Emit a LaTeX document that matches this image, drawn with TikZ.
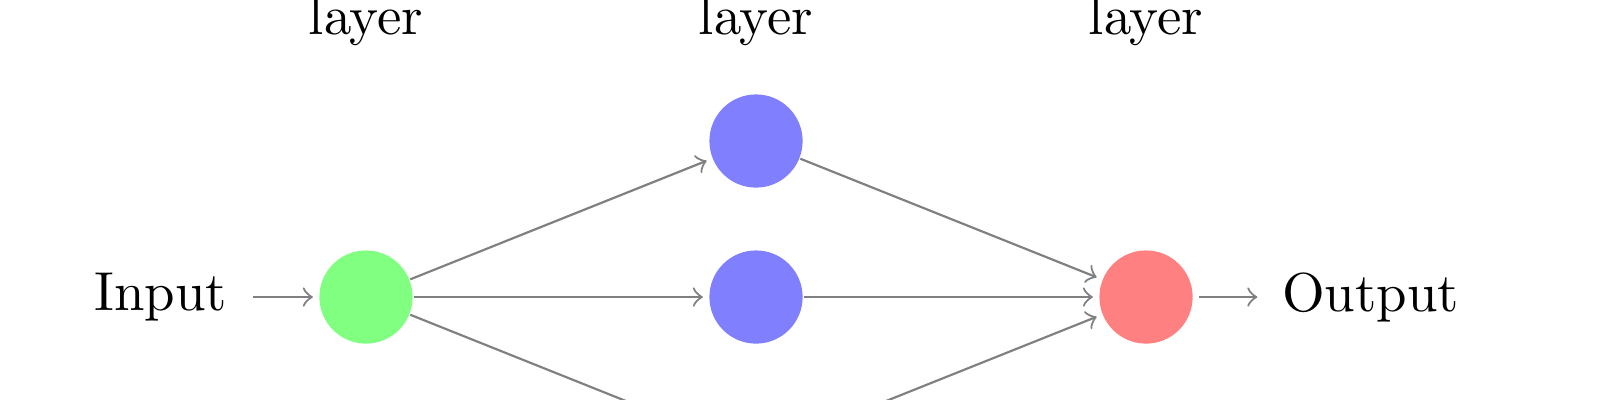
\documentclass[tikz,border=0pt]{standalone}
\begin{document}
\begin{tikzpicture}[
  neuron/.style={circle, minimum size=17pt, inner sep=0pt, draw=none},
  inneuron/.style={neuron, fill=green!50},
  hidneuron/.style={neuron, fill=blue!50},
  outneuron/.style={neuron, fill=red!50},
  conn/.style={->, shorten >=1pt, draw=black!50},
  annot/.style={anchor=base}
]
\useasboundingbox (-2.346,-0.660) rectangle (7.910,1.904);
\clip (-2.346,-0.660) rectangle (7.910,1.904);
\node[inneuron] (I) at (0,0) {};
\node[hidneuron] (H1) at (2.5,1) {};
\node[hidneuron] (H2) at (2.5,0) {};
\node[hidneuron] (H3) at (2.5,-1) {};
\node[outneuron] (O) at (5,0) {};
\node (in) at (-1.317,0) {Input};
\node (out) at (6.439,0) {Output};
\node[annot] (l1) at (0,1.686) {layer};
\node[annot] (l2) at (2.5,1.686) {layer};
\node[annot] (l3) at (5,1.686) {layer};
\draw[conn, shorten <=1.2pt] (in) -- (I);
\draw[conn] (I) -- (H1);
\draw[conn] (I) -- (H2);
\draw[conn] (I) -- (H3);
\draw[conn] (H1) -- (O);
\draw[conn] (H2) -- (O);
\draw[conn] (H3) -- (O);
\draw[conn, shorten <=1pt] (O) -- (out);
\end{tikzpicture}
\end{document}
